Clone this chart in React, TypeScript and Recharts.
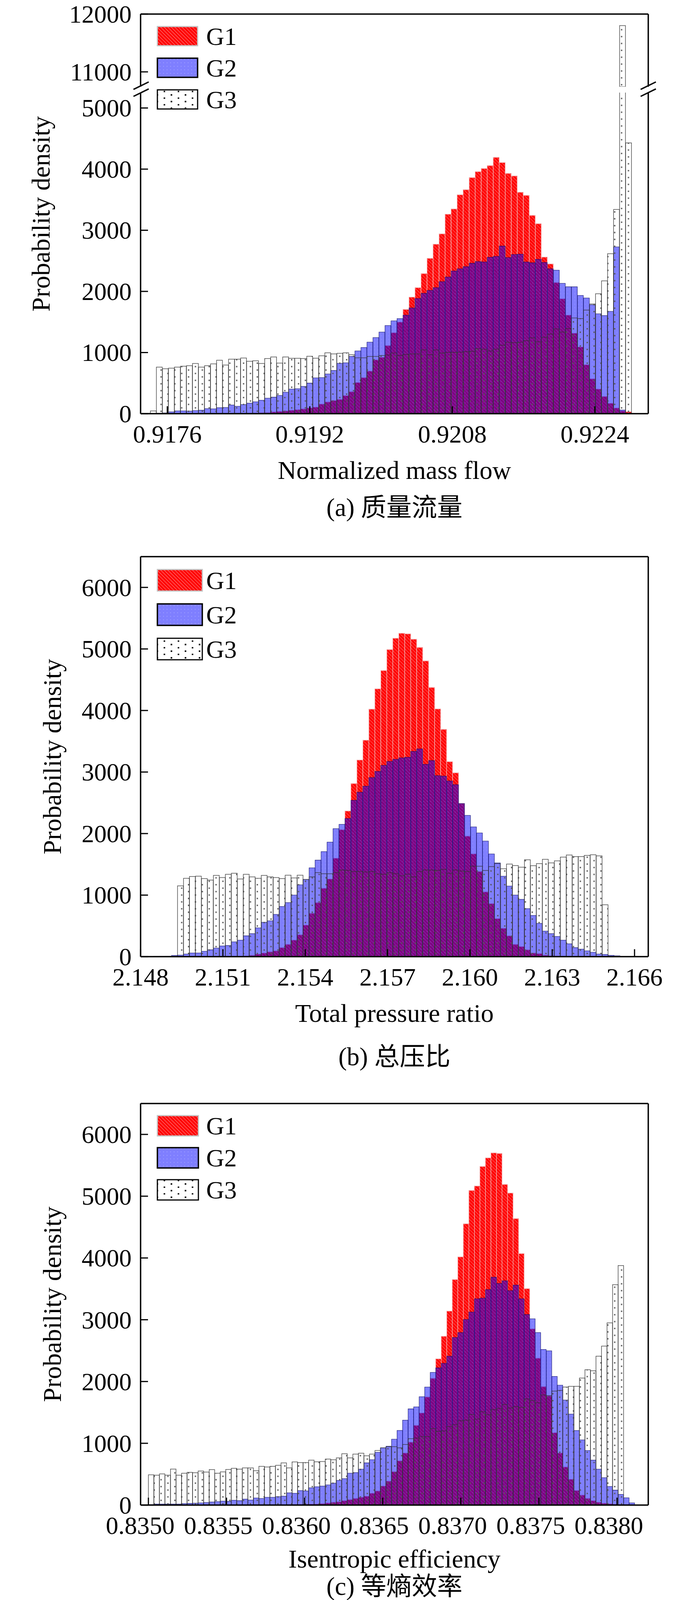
import React from 'react';
import { ComposedChart, Bar, XAxis, YAxis, ReferenceLine, Legend } from 'recharts';

const SERIF = "'Liberation Serif', 'Times New Roman', serif";
const CAPTION_FONT = "'Liberation Serif', 'Noto Sans CJK SC', serif";

// (a) normalized mass flow
const massDomain: [number, number] = [0.9173, 0.923];
const massTicks = [0.9176, 0.9192, 0.9208, 0.9224];
const massStart = 0.91741;
const massBin = 6.754e-5;
const massG1 = [
  0, 0, 0, 0, 0, 0, 0, 0, 0, 0,
  0, 0, 0, 0, 5, 6, 8, 10, 14, 18,
  28, 37, 45, 56, 65, 79, 93, 107, 157, 191,
  214, 233, 295, 360, 509, 590, 697, 880, 922, 1113,
  1324, 1498, 1704, 1906, 2061, 2291, 2539, 2772, 2941, 3261,
  3348, 3579, 3663, 3860, 3958, 4009, 4057, 4192, 4107, 3930,
  3888, 3621, 3570, 3242, 3107, 2561, 2449, 2145, 1878, 1611,
  1316, 1091, 801, 571, 402, 281, 169, 93, 45, 31,
];
const massG2 = [
  0, 5, 12, 30, 45, 45, 42, 50, 56, 82,
  79, 98, 101, 141, 121, 149, 171, 194, 219, 253,
  270, 298, 351, 402, 408, 447, 500, 585, 590, 649,
  706, 824, 832, 936, 1026, 1082, 1170, 1245, 1335, 1442,
  1518, 1555, 1611, 1729, 1884, 1968, 2016, 2061, 2159, 2235,
  2333, 2370, 2404, 2460, 2488, 2482, 2558, 2572, 2741, 2553,
  2603, 2609, 2482, 2468, 2525, 2474, 2370, 2347, 2131, 2075,
  2075, 1934, 1892, 1780, 1633, 1605, 1673, 2727, 60, 10,
];
const massG3 = [
  45, 762, 734, 745, 762, 776, 784, 821, 762, 784,
  815, 874, 796, 891, 891, 911, 857, 866, 821, 902,
  928, 827, 928, 905, 905, 902, 939, 908, 947, 995,
  978, 987, 995, 964, 914, 914, 936, 936, 950, 960,
  992, 950, 970, 978, 978, 1043, 964, 1043, 992, 1001,
  1001, 1006, 1015, 1020, 1063, 1054, 1026, 1054, 1119, 1167,
  1161, 1167, 1195, 1240, 1175, 1251, 1302, 1386, 1335, 1392,
  1565, 1555, 1695, 1794, 1962, 2173, 2617, 3340, 11800, 4430,
];

// (b) total pressure ratio
const prDomain: [number, number] = [2.148, 2.1665];
const prTicks = [2.148, 2.151, 2.154, 2.157, 2.16, 2.163, 2.166];
const prStart = 2.148038;
const prBin = 2.1796e-4;
const prG1 = [
  0, 0, 0, 0, 0, 0, 0, 0, 0, 0,
  0, 0, 0, 0, 0, 0, 0, 10, 20, 42,
  59, 77, 94, 146, 199, 268, 355, 512, 704, 878,
  1111, 1261, 1599, 2063, 2366, 2812, 3195, 3516, 4021, 4352,
  4648, 4990, 5174, 5254, 5244, 5157, 5024, 4805, 4373, 4024,
  3693, 3167, 2986, 2488, 1958, 1669, 1383, 1052, 861, 617,
  460, 338, 199, 164, 111, 59, 49, 24, 15, 10,
  5, 3, 0, 0, 0, 0, 0, 0, 0, 0,
];
const prG2 = [
  0, 0, 4, 5, 6, 20, 24, 42, 59, 59,
  87, 111, 139, 174, 181, 240, 268, 338, 373, 467,
  557, 582, 686, 815, 878, 1000, 1167, 1254, 1443, 1568,
  1707, 1861, 2080, 2150, 2244, 2540, 2672, 2770, 2909, 3010,
  3108, 3171, 3206, 3230, 3240, 3334, 3376, 3125, 3185, 2941,
  2934, 2854, 2794, 2488, 2296, 2108, 2010, 1878, 1669, 1523,
  1307, 1146, 1000, 930, 780, 669, 540, 415, 373, 328,
  268, 209, 146, 122, 94, 70, 42, 35, 21, 14,
];
const prG3 = [
  0, 0, 0, 0, 0, 0, 1150, 1272, 1303, 1307,
  1268, 1244, 1321, 1286, 1338, 1355, 1261, 1338, 1296, 1272,
  1321, 1296, 1286, 1268, 1324, 1279, 1324, 1254, 1296, 1366,
  1348, 1348, 1366, 1408, 1400, 1383, 1383, 1376, 1383, 1348,
  1338, 1366, 1348, 1314, 1341, 1296, 1383, 1408, 1408, 1400,
  1418, 1355, 1408, 1390, 1383, 1470, 1470, 1400, 1463, 1512,
  1429, 1505, 1481, 1453, 1575, 1477, 1512, 1582, 1523, 1557,
  1617, 1652, 1627, 1627, 1645, 1655, 1638, 843, 0, 0,
];

// (c) isentropic efficiency
const effDomain: [number, number] = [0.83495, 0.8382];
const effTicks = [0.835, 0.8355, 0.836, 0.8365, 0.837, 0.8375, 0.838];
const effStart = 0.835;
const effBin = 3.5375e-5;
const effG1 = [
  0, 0, 0, 0, 0, 0, 0, 0, 0, 0,
  0, 0, 0, 0, 0, 0, 0, 0, 0, 0,
  0, 0, 0, 0, 0, 5, 8, 10, 12, 14,
  16, 24, 35, 46, 53, 71, 89, 107, 126, 144,
  191, 228, 308, 388, 540, 716, 843, 1018, 1290, 1490,
  1750, 2050, 2366, 2732, 3140, 3650, 4017, 4552, 5091, 5164,
  5481, 5620, 5700, 5690, 5190, 5051, 4636, 4071, 3503, 2851,
  2377, 1918, 1765, 1171, 843, 617, 417, 235, 162, 107,
  71, 46, 30, 20, 12, 8, 5, 0,
];
const effG2 = [
  9, 16, 16, 16, 16, 16, 24, 27, 31, 35,
  42, 49, 56, 64, 60, 78, 71, 97, 82, 115,
  107, 126, 126, 137, 144, 199, 191, 235, 228, 279,
  297, 308, 326, 355, 399, 428, 516, 526, 581, 683,
  734, 854, 927, 953, 1066, 1208, 1375, 1557, 1590, 1754,
  1910, 2148, 2221, 2294, 2410, 2713, 2793, 3004, 3124, 3339,
  3350, 3488, 3689, 3587, 3630, 3470, 3561, 3339, 3084, 3015,
  2793, 2519, 2497, 2082, 1940, 1700, 1473, 1207, 1055, 883,
  727, 581, 443, 301, 242, 173, 118, 35,
];
const effG3 = [
  490, 483, 505, 483, 583, 483, 515, 530, 523, 552,
  534, 574, 515, 537, 577, 596, 581, 603, 603, 556,
  628, 617, 628, 643, 683, 603, 698, 687, 687, 727,
  701, 705, 745, 734, 763, 831, 763, 825, 839, 799,
  825, 883, 927, 945, 945, 927, 982, 1073, 1084, 1109,
  1109, 1237, 1193, 1200, 1273, 1299, 1364, 1375, 1466, 1393,
  1510, 1462, 1546, 1565, 1630, 1572, 1594, 1583, 1718, 1692,
  1656, 1783, 1772, 1845, 1856, 1911, 1922, 1922, 2057, 2191,
  2173, 2410, 2574, 2949, 3568, 3878, 0, 0,
];

type Row = { x: number; g1: number | null; g2: number | null; g3: number | null };

// one row per histogram bin, keyed by the bin centre; values under `floor` are left out
function buildRows(start: number, width: number, g1: number[], g2: number[], g3: number[], floor = -Infinity): Row[] {
  const keep = (v: number) => (v >= floor ? v : null);
  return g1.map((v, i) => ({
    x: +(start + (i + 0.5) * width).toFixed(8),
    g1: keep(v),
    g2: keep(g2[i]),
    g3: keep(g3[i]),
  }));
}

const XTick = (props: any) => {
  const { x, y, payload, digits, shift } = props;
  return (
    <text x={x + shift} y={y + 74} textAnchor="middle" fontFamily={SERIF} fontSize={64} fill="#000">
      {Number(payload.value).toFixed(digits)}
    </text>
  );
};

const YTick = (props: any) => {
  const { x, y, payload } = props;
  return (
    <text x={x - 23} y={y + 22} textAnchor="end" fontFamily={SERIF} fontSize={64} fill="#000">
      {payload.value}
    </text>
  );
};

const xTitles = (title: string, caption: string, titleDrop: number, captionDrop: number) => (props: any) => {
  const vb = props.viewBox || { x: 360, y: 0, width: 1300 };
  const cx = vb.x + vb.width / 2;
  return (
    <g>
      <text x={cx} y={vb.y + titleDrop} textAnchor="middle" fontFamily={SERIF} fontSize={66} fill="#000">
        {title}
      </text>
      <text x={cx} y={vb.y + captionDrop} textAnchor="middle" fontFamily={CAPTION_FONT} fontSize={65} fill="#000">
        {caption}
      </text>
    </g>
  );
};

const yTitle = (bx: number, cy?: number) => (props: any) => {
  const vb = props.viewBox || { y: 0, height: 0 };
  const y = cy ?? vb.y + vb.height / 2;
  return (
    <text x={bx} y={y} transform={`rotate(-90, ${bx}, ${y})`} textAnchor="middle" fontFamily={SERIF} fontSize={66} fill="#000">
      Probability density
    </text>
  );
};

type LegendSpec = { top: number; gap: number; w: number; h: number };

const legendContent = (id: string, spec: LegendSpec) => (props: any) => {
  const items = props.payload || [];
  const boxes: Record<string, { fill: string; stroke: string; sw: number }> = {
    g1: { fill: `url(#lh-${id})`, stroke: '#c4c4c4', sw: 3 },
    g2: { fill: `url(#lb-${id})`, stroke: '#000', sw: 3.5 },
    g3: { fill: `url(#ld-${id})`, stroke: '#000', sw: 3 },
  };
  return (
    <svg width={700} height={spec.gap * 2 + spec.h + 10} style={{ display: 'block', overflow: 'visible' }}>
      <defs>
        <pattern id={`lh-${id}`} patternUnits="userSpaceOnUse" width={6.4} height={6.4} patternTransform="rotate(-45)">
          <rect width={6.4} height={6.4} fill="#ff0000" />
          <line x1={0} y1={0} x2={0} y2={6.4} stroke="#ffffff" strokeWidth={1.4} strokeOpacity={0.85} />
        </pattern>
        <pattern id={`lb-${id}`} patternUnits="userSpaceOnUse" width={9} height={9}>
          <rect width={9} height={9} fill="#7f7fff" />
          <rect x={4} y={4} width={1.4} height={1.4} fill="#ffffff" fillOpacity={0.5} />
        </pattern>
        <pattern id={`ld-${id}`} patternUnits="userSpaceOnUse" width={36} height={17}>
          <rect width={36} height={17} fill="#ffffff" />
          <rect x={5} y={5} width={4} height={4} fill="#000" />
          <rect x={23} y={13.5} width={4} height={4} fill="#000" />
        </pattern>
      </defs>
      {items.map((it: any, i: number) => {
        const b = boxes[it.dataKey as string] || boxes.g3;
        const top = 2 + i * spec.gap;
        return (
          <g key={String(it.dataKey)}>
            <rect x={403} y={top} width={spec.w} height={spec.h} fill={b.fill} stroke={b.stroke} strokeWidth={b.sw} />
            <text x={528} y={top + spec.h / 2 + 22} fontFamily={SERIF} fontSize={64} fill="#000">
              {it.value}
            </text>
          </g>
        );
      })}
    </svg>
  );
};

type PanelProps = {
  id: string;
  top: number;
  height: number;
  marginTop: number;
  rows: Row[];
  xDomain: [number, number];
  xTicks: number[];
  xDigits: number;
  xShift: number;
  yDomain: [number, number];
  yTicks: number[];
  showBottom: boolean;
  showTop: boolean;
  xTitle?: string;
  caption?: string;
  titleDrop?: number;
  captionDrop?: number;
  yTitleX?: number;
  yTitleY?: number;
  legend?: LegendSpec;
};

function Panel(p: PanelProps) {
  return (
    <div style={{ position: 'absolute', left: 0, top: p.top }}>
      <ComposedChart
        width={1772}
        height={p.height}
        data={p.rows}
        margin={{ top: p.marginTop, right: 112, bottom: 0, left: 0 }}
        barCategoryGap={0}
        barGap={0}
      >
        <defs>
          <pattern id={`h-${p.id}`} patternUnits="userSpaceOnUse" width={6.2} height={6.2} patternTransform="rotate(-45)">
            <rect width={6.2} height={6.2} fill="#ff0000" />
            <line x1={0} y1={0} x2={0} y2={6.2} stroke="#ffffff" strokeWidth={1.3} strokeOpacity={0.75} />
          </pattern>
          <pattern id={`b-${p.id}`} patternUnits="userSpaceOnUse" width={9} height={9}>
            <rect width={9} height={9} fill="#0000ff" fillOpacity={0.5} />
            <rect x={4} y={4} width={1.3} height={1.3} fill="#ffffff" fillOpacity={0.3} />
          </pattern>
          <pattern id={`d-${p.id}`} patternUnits="userSpaceOnUse" width={35.2} height={17.6}>
            <rect x={6} y={4} width={3.4} height={3.4} fill="#555555" />
            <rect x={23.6} y={12.8} width={3.4} height={3.4} fill="#555555" />
          </pattern>
        </defs>
        {/* visible axis first so the two hidden copies stack below it */}
        <XAxis
          xAxisId="n1"
          dataKey="x"
          type="number"
          domain={p.xDomain}
          allowDataOverflow
          ticks={p.xTicks}
          interval={0}
          hide={!p.showBottom}
          height={300}
          tickSize={-19}
          tickMargin={19}
          tick={(t: any) => <XTick {...t} digits={p.xDigits} shift={p.xShift} />}
          tickLine={{ stroke: '#000', strokeWidth: 3 }}
          axisLine={{ stroke: '#000', strokeWidth: 3.5 }}
          label={
            p.xTitle ? xTitles(p.xTitle, p.caption || '', p.titleDrop || 167, p.captionDrop || 270) : undefined
          }
        />
        <XAxis xAxisId="n2" dataKey="x" type="number" domain={p.xDomain} allowDataOverflow hide height={0} />
        <XAxis xAxisId="n3" dataKey="x" type="number" domain={p.xDomain} allowDataOverflow hide height={0} />
        <YAxis
          width={360}
          domain={p.yDomain}
          allowDataOverflow
          ticks={p.yTicks}
          interval={0}
          tickSize={-19}
          tickMargin={19}
          tick={(t: any) => <YTick {...t} />}
          tickLine={{ stroke: '#000', strokeWidth: 3 }}
          axisLine={{ stroke: '#000', strokeWidth: 3.5 }}
          label={p.yTitleX ? yTitle(p.yTitleX, p.yTitleY) : undefined}
        />
        <Bar
          xAxisId="n1"
          dataKey="g1"
          name="G1"
          fill={`url(#h-${p.id})`}
          stroke="#f2a0a0"
          strokeWidth={1.5}
          isAnimationActive={false}
        />
        <Bar
          xAxisId="n2"
          dataKey="g2"
          name="G2"
          fill={`url(#b-${p.id})`}
          stroke="#10106a"
          strokeOpacity={0.8}
          strokeWidth={1.3}
          isAnimationActive={false}
        />
        <Bar
          xAxisId="n3"
          dataKey="g3"
          name="G3"
          fill={`url(#d-${p.id})`}
          stroke="#333333"
          strokeOpacity={0.85}
          strokeWidth={1.5}
          isAnimationActive={false}
        />
        <ReferenceLine xAxisId="n1" x={p.xDomain[1]} stroke="#000" strokeWidth={3.5} ifOverflow="visible" />
        {p.showTop && (
          <ReferenceLine xAxisId="n1" y={p.yDomain[1]} stroke="#000" strokeWidth={3.5} ifOverflow="visible" />
        )}
        {p.legend && (
          <Legend
            layout="vertical"
            align="center"
            verticalAlign="middle"
            wrapperStyle={{ left: 0, top: p.legend.top, width: 700, height: p.legend.gap * 2 + p.legend.h + 10 }}
            content={legendContent(p.id, p.legend)}
          />
        )}
      </ComposedChart>
    </div>
  );
}

export default function App() {
  const massUpperRows = buildRows(massStart, massBin, massG1, massG2, massG3, 10743);
  const massRows = buildRows(massStart, massBin, massG1, massG2, massG3);
  const prRows = buildRows(prStart, prBin, prG1, prG2, prG3);
  const effRows = buildRows(effStart, effBin, effG1, effG2, effG3);

  return (
    <div style={{ position: 'absolute', left: 0, top: 0, width: 1772, height: 4153, background: '#fff', overflow: 'hidden' }}>
      <style>{'body{margin:0}'}</style>
      {/* (a) upper part of the broken axis */}
      <Panel
        id="au"
        top={0}
        height={222}
        marginTop={36}
        rows={massUpperRows}
        xDomain={massDomain}
        xTicks={massTicks}
        xDigits={4}
        xShift={0}
        yDomain={[10743, 12000]}
        yTicks={[11000, 12000]}
        showBottom={false}
        showTop
      />
      {/* (a) lower part */}
      <Panel
        id="al"
        top={0}
        height={1359}
        marginTop={237}
        rows={massRows}
        xDomain={massDomain}
        xTicks={massTicks}
        xDigits={4}
        xShift={0}
        yDomain={[0, 5252]}
        yTicks={[0, 1000, 2000, 3000, 4000, 5000]}
        showBottom
        showTop={false}
        xTitle="Normalized mass flow"
        caption="(a) 质量流量"
        captionDrop={262}
        yTitleX={127}
        yTitleY={547.5}
        legend={{ top: 66, gap: 81, w: 103, h: 49 }}
      />
      <svg width={1772} height={300} style={{ position: 'absolute', left: 0, top: 0 }}>
        <line x1={341.8} y1={228.9} x2={380.8} y2={209.7} stroke="#000" strokeWidth={3.5} />
        <line x1={341.8} y1={246.8} x2={380.8} y2={227.6} stroke="#000" strokeWidth={3.5} />
        <line x1={1640.5} y1={228.9} x2={1679.5} y2={209.7} stroke="#000" strokeWidth={3.5} />
        <line x1={1640.5} y1={246.8} x2={1679.5} y2={227.6} stroke="#000" strokeWidth={3.5} />
      </svg>
      <Panel
        id="b"
        top={1300}
        height={1449}
        marginTop={125}
        rows={prRows}
        xDomain={prDomain}
        xTicks={prTicks}
        xDigits={3}
        xShift={0}
        yDomain={[0, 6500]}
        yTicks={[0, 1000, 2000, 3000, 4000, 5000, 6000]}
        showBottom
        showTop
        xTitle="Total pressure ratio"
        caption="(b) 总压比"
        captionDrop={278}
        yTitleX={156}
        legend={{ top: 156, gap: 88, w: 115, h: 55 }}
      />
      <Panel
        id="c"
        top={2700}
        height={1453}
        marginTop={125}
        rows={effRows}
        xDomain={effDomain}
        xTicks={effTicks}
        xDigits={4}
        xShift={-21}
        yDomain={[0, 6500]}
        yTicks={[0, 1000, 2000, 3000, 4000, 5000, 6000]}
        showBottom
        showTop
        xTitle="Isentropic efficiency"
        caption="(c) 等熵效率"
        titleDrop={160}
        captionDrop={230}
        yTitleX={156}
        legend={{ top: 154, gap: 82, w: 105, h: 52 }}
      />
    </div>
  );
}
